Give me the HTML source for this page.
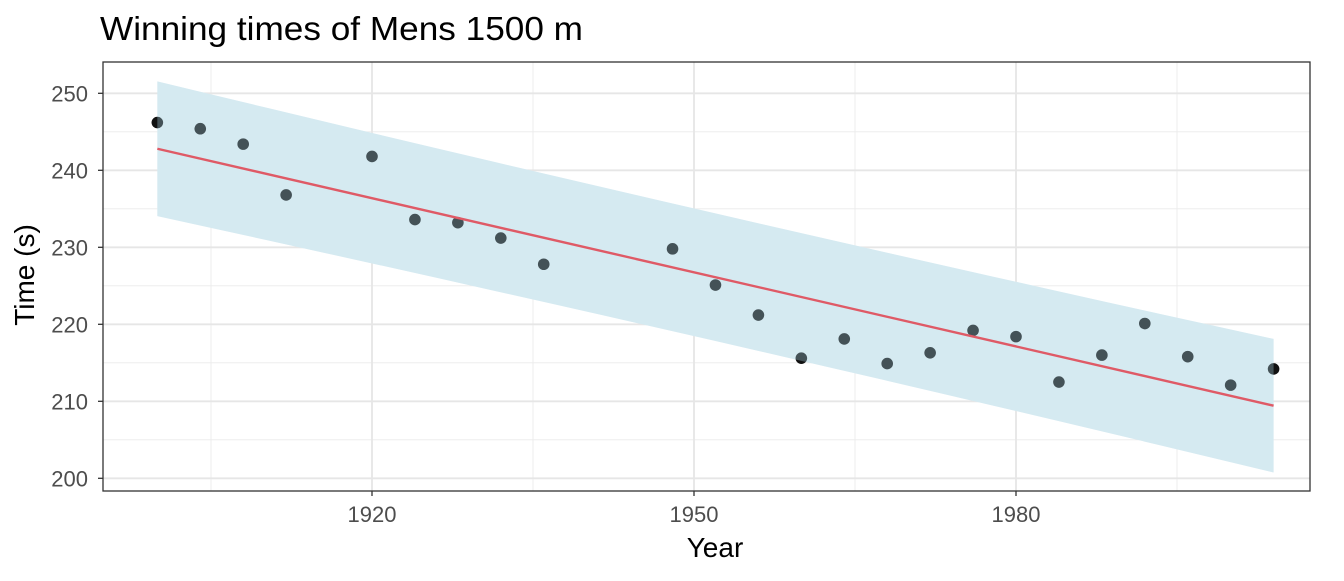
<!DOCTYPE html>
<html><head><meta charset="utf-8"><style>
body{margin:0;background:#fff;font-family:"Liberation Sans",sans-serif}
svg text{font-family:"Liberation Sans",sans-serif}
</style></head><body>
<svg id="c" width="1344" height="576"></svg>
<script>
const years=[1900,1904,1908,1912,1920,1924,1928,1932,1936,1948,1952,1956,1960,1964,1968,1972,1976,1980,1984,1988,1992,1996,2000,2004];
const times=[246.2,245.4,243.4,236.8,241.8,233.6,233.2,231.2,227.8,229.8,225.1,221.2,215.6,218.1,214.9,216.3,219.2,218.4,212.5,216.0,220.1,215.8,212.1,214.2];
const xTicks=[1920,1950,1980];
const xMinor=[1905,1935,1965,1995];
const yTicks=[200,210,220,230,240,250];
const yMinor=[205,215,225,235,245];
const NS='http://www.w3.org/2000/svg';
const svg=document.getElementById('c');
const L=103,R=1310,T=62,B=491;
const xs=y=>372+(y-1920)*(694-372)/30;
const ys=v=>93.3+(250-v)*7.7;
function mk(t,a,p){const e=document.createElementNS(NS,t);for(const k in a)e.setAttribute(k,a[k]);(p||svg).appendChild(e);return e;}
yMinor.forEach(v=>{const e=mk('line',{x1:L,x2:R,y1:ys(v),y2:ys(v),stroke:'#ebebeb','stroke-width':0.9});

});
xMinor.forEach(v=>{const e=mk('line',{x1:xs(v),x2:xs(v),y1:T,y2:B,stroke:'#ebebeb','stroke-width':0.9});

});
yTicks.forEach(v=>{const e=mk('line',{x1:L,x2:R,y1:ys(v),y2:ys(v),stroke:'#e6e6e6','stroke-width':1.8});


const t=mk('line',{x1:L-5,x2:L,y1:ys(v),y2:ys(v),stroke:'#333','stroke-width':1.3});


const l=mk('text',{x:L-15,y:ys(v)+8,'text-anchor':'end','font-size':22,fill:'#4d4d4d'});l.textContent=v;

});
xTicks.forEach(v=>{const e=mk('line',{x1:xs(v),x2:xs(v),y1:T,y2:B,stroke:'#e6e6e6','stroke-width':1.8});


const t=mk('line',{x1:xs(v),x2:xs(v),y1:B,y2:B+5,stroke:'#333','stroke-width':1.3});


const l=mk('text',{x:xs(v),y:522,'text-anchor':'middle','font-size':22,fill:'#4d4d4d'});l.textContent=v;

});
const n=years.length;const mx=years.reduce((a,b)=>a+b)/n,my=times.reduce((a,b)=>a+b)/n;
let sxx=0,sxy=0;years.forEach((x,i)=>{sxx+=(x-mx)**2;sxy+=(x-mx)*(times[i]-my);});
const b=sxy/sxx,a=my-b*mx;let sse=0;years.forEach((x,i)=>{sse+=(times[i]-a-b*x)**2;});
const se=Math.sqrt(sse/(n-2)),tq=2.074;
const x0=years[0],x1=years[n-1];
const hw=x=>tq*se*Math.sqrt(1+1/n+(x-mx)**2/sxx);
const fit=x=>a+b*x;
function bandPts(){const pts=[];for(let k=0;k<=20;k++){const x=x0+(x1-x0)*k/20;pts.push(xs(x)+','+ys(fit(x)+hw(x)));}
for(let k=20;k>=0;k--){const x=x0+(x1-x0)*k/20;pts.push(xs(x)+','+ys(fit(x)-hw(x)));}return pts.join(' ');}
const band=mk('polygon',{points:bandPts(),fill:'rgb(233,243,247)'});


years.forEach((y,i)=>{const p=mk('circle',{cx:xs(y),cy:ys(times[i]),r:5.8,fill:'#111'});

});
const band2=mk('polygon',{points:bandPts(),fill:'rgb(173,216,230)','fill-opacity':0.33});


const ln=mk('line',{x1:xs(x0),y1:ys(fit(x0)),x2:xs(x1),y2:ys(fit(x1)),stroke:'#df5a66','stroke-width':2.4});


const fr=mk('rect',{x:L,y:T,width:R-L,height:B-T,fill:'none',stroke:'#333','stroke-width':1.3});


const ti=mk('text',{x:100,y:40,'font-size':33,fill:'#000',textLength:483,lengthAdjust:'spacingAndGlyphs'});ti.textContent='Winning times of Mens 1500 m';


const xt=mk('text',{x:715,y:557,'text-anchor':'middle','font-size':28,fill:'#000'});xt.textContent='Year';


const yt=mk('text',{x:0,y:0,'text-anchor':'middle','font-size':28,fill:'#000',transform:'translate(34,275) rotate(-90)'});yt.textContent='Time (s)';


</script>
</body></html>
